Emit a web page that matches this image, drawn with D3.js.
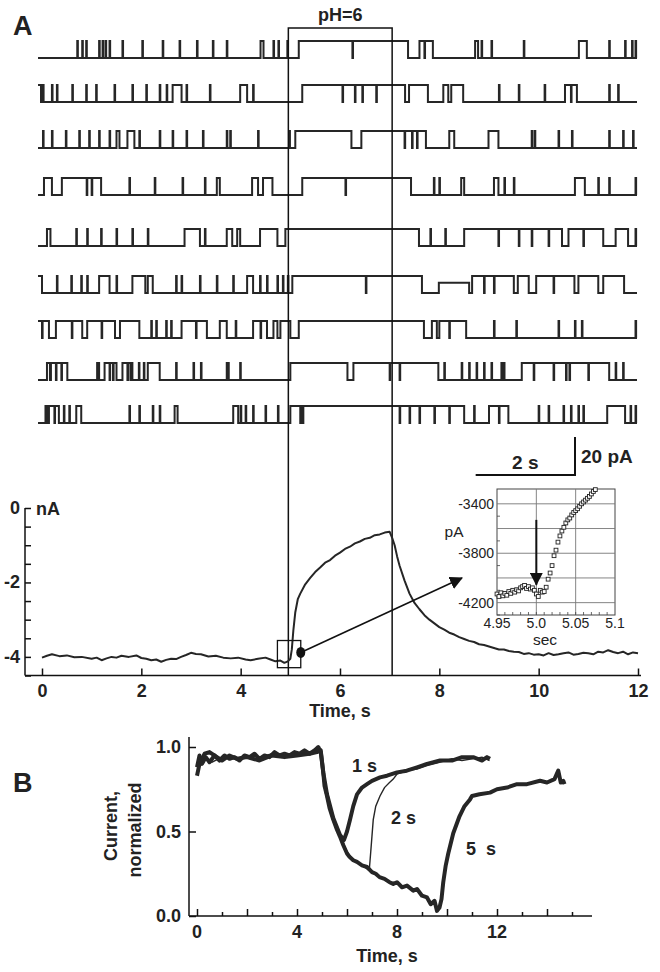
<!DOCTYPE html>
<html>
<head>
<meta charset="utf-8">
<script src="https://cdn.jsdelivr.net/npm/d3@7"></script>
<style>
  body { margin: 0; background: #fff; }
  text { font-family: 'Liberation Sans', Arial, Helvetica, sans-serif; fill: #222; }
</style>
</head>
<body>
<svg id="fig" width="660" height="972"></svg>
<script>
// ---- panel A, single channel records (s); [start, end, level?] = open level, brief = short flickers
const traceSpan = [-0.08, 11.98];
const pulse = [4.96, 7.05];
const openLevelPa = 9;

const openings = [
  [[4.40, 4.46], [5.17, 7.37], [7.60, 7.87], [8.72, 8.78], [10.81, 10.97]],
  [[-0.08, -0.02], [2.63, 2.81], [3.99, 4.13], [5.24, 7.31], [7.39, 7.77], [8.08, 8.18], [8.24, 8.48], [10.53, 10.77]],
  [[1.5, 1.56], [1.72, 1.86], [5.1, 6.23], [6.43, 7.73], [8.2, 8.3], [8.99, 9.19]],
  [[0.04, 0.2], [0.4, 1.19], [3.52, 3.58], [4.23, 4.35], [4.45, 4.64], [5.24, 7.43], [8.44, 8.5], [9.1, 9.19], [10.73, 10.93]],
  [[0.1, 0.17], [2.87, 3.18], [3.72, 3.83], [3.93, 3.99], [4.39, 4.74], [4.9, 7.59], [8.5, 10.47], [10.6, 11.3], [11.55, 11.8]],
  [[-0.08, 0.0], [1.15, 1.36], [1.82, 2.08], [2.13, 2.23], [4.13, 4.25], [5.04, 7.65], [7.99, 8.6, 0.6], [8.66, 9.5], [9.58, 9.8], [9.95, 10.72], [10.8, 11.2], [11.3, 11.72]],
  [[-0.08, 0.14], [0.28, 0.81], [0.91, 1.47], [1.57, 1.96], [2.81, 3.32], [3.58, 3.72], [4.25, 4.53], [4.66, 4.74], [4.8, 5.0], [5.17, 7.69], [7.85, 7.95], [8.0, 8.54]],
  [[0.1, 0.16], [0.18, 0.51], [1.11, 1.15], [1.26, 1.5], [1.62, 1.82], [2.13, 2.37], [3.72, 3.76], [5.0, 6.15], [6.27, 7.98], [9.66, 11.42]],
  [[0.07, 0.1], [0.14, 0.34], [0.69, 0.79], [2.67, 2.73], [3.85, 3.95], [5.0, 8.5], [9.0, 9.39], [11.38, 11.74]]
];

const briefEvents = [
  [0.71, 0.81, 0.89, 1.15, 1.22, 1.28, 1.36, 1.62, 2.02, 2.43, 2.77, 3.12, 3.44, 3.72, 4.66, 4.76, 4.94, 6.25, 7.7, 8.85, 9.05, 9.7, 11.42, 11.74, 11.88, 11.95],
  [0.02, 0.2, 0.3, 0.61, 0.89, 1.09, 1.46, 1.82, 2.1, 2.37, 2.51, 2.91, 3.38, 4.25, 6.05, 6.3, 6.45, 6.73, 9.2, 9.6, 10.12, 10.65, 11.42, 11.6],
  [0.02, 0.2, 0.48, 0.75, 0.95, 1.15, 1.36, 1.96, 2.37, 2.63, 2.91, 3.24, 3.72, 3.79, 4.35, 4.98, 7.3, 7.45, 7.55, 9.86, 9.92, 10.4, 10.67, 11.42, 11.7, 11.9],
  [0.9, 1.0, 1.76, 2.27, 2.83, 3.28, 6.11, 7.89, 8.0, 9.31, 9.5, 11.2, 11.42, 11.95],
  [0.69, 0.91, 1.19, 1.5, 1.82, 2.13, 3.28, 7.82, 8.12, 9.19, 9.6, 9.86, 10.2, 10.9, 11.95],
  [0.3, 0.59, 0.79, 0.91, 1.5, 2.7, 2.81, 3.18, 3.52, 3.85, 4.39, 4.53, 4.74, 4.85, 4.95, 6.52, 8.9, 9.1, 10.3],
  [0.0, 0.6, 1.2, 2.2, 2.3, 2.5, 2.6, 3.1, 3.9, 4.4, 8.2, 9.1, 9.55, 10.4, 10.73, 10.87, 11.95],
  [0.28, 0.39, 1.36, 1.43, 1.72, 1.78, 1.95, 2.05, 2.7, 3.05, 3.2, 3.99, 7.0, 7.2, 8.1, 8.45, 8.6, 8.75, 8.9, 9.05, 9.25, 9.3, 9.9, 10.3, 10.55, 10.62, 11.0, 11.55, 11.7],
  [0.25, 0.44, 0.55, 1.76, 1.96, 2.23, 2.37, 4.0, 4.1, 4.25, 4.5, 4.75, 5.2, 5.25, 7.2, 7.4, 7.6, 7.9, 8.2, 8.7, 9.2, 10.0, 10.2, 10.5, 10.65, 10.8, 10.9, 11.85, 11.95]
];

// ---- panel A, whole cell current (s, nA)
const wholeCell = [
  [0, -4.02], [0.1, -3.97], [0.2, -3.93], [0.35, -3.98], [0.5, -3.96], [0.65, -4.01], [0.8, -4.0], [1.0, -4.05],
  [1.1, -4.02], [1.2, -4.09], [1.3, -4.04], [1.4, -4.0], [1.5, -4.02], [1.6, -3.97], [1.75, -4.0], [1.9, -3.96],
  [2.0, -4.03], [2.1, -4.05], [2.2, -4.09], [2.3, -4.07], [2.4, -4.13], [2.5, -4.08], [2.6, -4.05], [2.7, -4.06],
  [2.8, -4.0], [2.9, -3.95], [3.0, -3.89], [3.1, -3.92], [3.2, -3.93], [3.35, -3.99], [3.5, -3.97], [3.65, -4.02],
  [3.8, -4.04], [3.95, -4.02], [4.1, -4.07], [4.2, -4.09], [4.35, -4.05], [4.5, -4.02], [4.6, -4.07], [4.7, -4.12],
  [4.8, -4.1], [4.88, -4.16], [4.95, -4.12], [5.0, -4.05], [5.03, -3.8], [5.06, -3.3], [5.1, -2.8], [5.15, -2.45],
  [5.2, -2.3], [5.3, -2.05], [5.4, -1.88], [5.5, -1.72], [5.6, -1.6], [5.7, -1.47], [5.8, -1.4], [5.9, -1.28],
  [6.0, -1.2], [6.1, -1.1], [6.2, -1.04], [6.3, -0.95], [6.4, -0.9], [6.5, -0.83], [6.6, -0.8], [6.7, -0.73],
  [6.8, -0.71], [6.9, -0.66], [7.0, -0.64], [7.05, -0.8], [7.1, -1.0], [7.15, -1.3], [7.2, -1.55], [7.3, -1.95],
  [7.4, -2.3], [7.5, -2.55], [7.6, -2.72], [7.7, -2.88], [7.8, -3.0], [7.9, -3.1], [8.0, -3.2], [8.1, -3.27],
  [8.2, -3.35], [8.3, -3.4], [8.4, -3.47], [8.5, -3.52], [8.6, -3.57], [8.7, -3.6], [8.8, -3.66], [8.9, -3.68],
  [9.0, -3.72], [9.1, -3.76], [9.2, -3.8], [9.3, -3.8], [9.4, -3.84], [9.5, -3.86], [9.6, -3.87], [9.7, -3.92],
  [9.8, -3.9], [9.9, -3.94], [10.0, -3.93], [10.1, -3.96], [10.2, -3.9], [10.3, -3.95], [10.4, -3.93], [10.5, -3.9],
  [10.6, -3.88], [10.7, -3.94], [10.8, -3.92], [10.9, -3.89], [11.0, -3.9], [11.1, -3.93], [11.2, -3.86], [11.3, -3.88],
  [11.4, -3.82], [11.5, -3.87], [11.6, -3.9], [11.7, -3.86], [11.8, -3.93], [11.9, -3.88], [12.0, -3.9]
];
const zoomWindowT = [4.74, 5.21];
const zoomWindowNA = [-3.56, -4.29];
const dotPoint = [5.21, -3.88];

// ---- inset (s, pA)
const insetT = [4.95, 4.9525, 4.955, 4.9575, 4.96, 4.9625, 4.965, 4.9675, 4.97, 4.9725, 4.975, 4.9775, 4.98, 4.9825, 4.985, 4.9875, 4.99,
  4.9925, 4.995, 4.9975, 5.0, 5.0025, 5.005, 5.0075, 5.01, 5.0125, 5.015, 5.0175, 5.02, 5.0225, 5.025, 5.0275, 5.03, 5.0325, 5.035,
  5.0375, 5.04, 5.0425, 5.045, 5.0475, 5.05, 5.0525, 5.055, 5.0575, 5.06, 5.0625, 5.065, 5.0675, 5.07, 5.0725, 5.075];
const insetPA = [-4130, -4150, -4120, -4145, -4125, -4140, -4110, -4125, -4100, -4115, -4095, -4105, -4080, -4070, -4060, -4085, -4070,
  -4090, -4080, -4100, -4130, -4150, -4100, -4115, -4110, -4075, -4010, -3960, -3900, -3820, -3775, -3710, -3660, -3620, -3590,
  -3555, -3530, -3515, -3490, -3470, -3455, -3440, -3420, -3400, -3385, -3370, -3355, -3340, -3320, -3300, -3285];
const insetYTicks = [-3400, -3800, -4200];
const insetXTicks = [4.95, 5.0, 5.05, 5.1];
const insetXLabels = ['4.95', '5.0', '5.05', '5.1'];

// ---- panel B (s, normalized current)
const rec5s = [
  [0, 0.88], [0.1, 0.95], [0.2, 0.9], [0.35, 0.94], [0.5, 0.91], [0.7, 0.95], [0.9, 0.92], [1.1, 0.95], [1.3, 0.93], [1.5, 0.94],
  [1.7, 0.92], [1.9, 0.95], [2.1, 0.94], [2.3, 0.96], [2.5, 0.93], [2.7, 0.95], [2.9, 0.94], [3.1, 0.97], [3.3, 0.95], [3.5, 0.96],
  [3.7, 0.95], [3.9, 0.97], [4.1, 0.96], [4.3, 0.98], [4.5, 0.96], [4.7, 0.98], [4.85, 1.0], [4.95, 0.97], [5.05, 0.85], [5.1, 0.77],
  [5.2, 0.71], [5.3, 0.64], [5.45, 0.57], [5.6, 0.51], [5.72, 0.47], [5.85, 0.42], [6.0, 0.37], [6.1, 0.35], [6.25, 0.33], [6.4, 0.32],
  [6.6, 0.3], [6.8, 0.29], [7.0, 0.26], [7.15, 0.25], [7.3, 0.23], [7.5, 0.22], [7.7, 0.2], [7.85, 0.19], [8.0, 0.2], [8.2, 0.17],
  [8.4, 0.18], [8.65, 0.15], [8.8, 0.16], [9.0, 0.12], [9.2, 0.11], [9.35, 0.07], [9.5, 0.09], [9.6, 0.03], [9.7, 0.05], [9.78, 0.1],
  [9.85, 0.2], [9.95, 0.3], [10.05, 0.37], [10.25, 0.49], [10.5, 0.59], [10.7, 0.65], [10.92, 0.69], [11.0, 0.71], [11.3, 0.72],
  [11.72, 0.73], [12.0, 0.75], [12.4, 0.76], [12.8, 0.78], [13.2, 0.78], [13.72, 0.8], [14.0, 0.79], [14.3, 0.81], [14.45, 0.86],
  [14.55, 0.79], [14.65, 0.8], [14.7, 0.78]
];
const rec1s = [
  [0, 0.83], [0.1, 0.9], [0.3, 0.96], [0.5, 0.97], [0.8, 0.94], [1.0, 0.92], [1.3, 0.95], [1.6, 0.93], [2.0, 0.94], [2.5, 0.92],
  [3.0, 0.95], [3.5, 0.94], [4.0, 0.95], [4.5, 0.96], [4.8, 0.97], [4.95, 0.98], [5.05, 0.85], [5.2, 0.72], [5.45, 0.58], [5.72, 0.48],
  [5.88, 0.45], [6.0, 0.5], [6.12, 0.57], [6.25, 0.65], [6.4, 0.72], [6.6, 0.76], [6.8, 0.78], [7.0, 0.8], [7.32, 0.82], [7.6, 0.83],
  [8.0, 0.85], [8.39, 0.86], [8.8, 0.88], [9.2, 0.9], [9.72, 0.92], [10.2, 0.92], [10.6, 0.94], [11.05, 0.94], [11.4, 0.92],
  [11.6, 0.94], [11.72, 0.93]
];
const rec2s = [
  [0, 0.9], [0.3, 0.93], [0.6, 0.91], [1.0, 0.94], [1.5, 0.93], [2.0, 0.95], [2.5, 0.94], [3.0, 0.96], [3.5, 0.95], [4.0, 0.96],
  [4.5, 0.97], [4.9, 0.98], [5.05, 0.84], [5.2, 0.71], [5.45, 0.57], [5.72, 0.47], [6.0, 0.38], [6.25, 0.33], [6.6, 0.3], [6.89, 0.27],
  [6.95, 0.38], [7.05, 0.57], [7.15, 0.65], [7.32, 0.71], [7.5, 0.76], [7.7, 0.79], [7.85, 0.81], [8.0, 0.84], [8.4, 0.86], [8.8, 0.87],
  [9.2, 0.89], [9.7, 0.91], [10.2, 0.93], [10.6, 0.92], [11.0, 0.93], [11.4, 0.94], [11.7, 0.92]
];
const recLabels = ['1 s', '2 s', '5\u00a0\u00a0s'];

// ------------------------------------------------------------------
const svg = d3.select('#fig');
const ink = '#262626';
const W = 0.012;

svg.append('defs').append('marker')
  .attr('id', 'head')
  .attr('viewBox', '0 0 12 12')
  .attr('markerWidth', 13).attr('markerHeight', 13)
  .attr('markerUnits', 'userSpaceOnUse')
  .attr('refX', 11).attr('refY', 6)
  .attr('orient', 'auto')
  .append('path').attr('d', 'M0,0 L12,6 L0,12 z').attr('fill', '#111');

function txt(x, y, s, size, weight, anchor) {
  return svg.append('text')
    .attr('x', x).attr('y', y)
    .attr('font-size', size)
    .attr('font-weight', weight || 'bold')
    .attr('text-anchor', anchor || 'start')
    .text(s);
}

// ---- panel A scales
const xA = d3.scaleLinear().domain([0, 12]).range([42, 638]);
const yA = d3.scaleLinear().domain([0, -4.5]).range([508, 675.5]);
const yPa = d3.scaleLinear().domain([0, 20]).range([0, -38]);
const rowY = [58, 102, 148, 195, 246, 293, 338, 380, 423];

function levelAt(open, brief, t) {
  const o = open.find(d => t >= d[0] && t < d[1]);
  let lv = o ? (o.length > 2 ? o[2] : 1) : 0;
  if (brief.some(b => t >= b && t < b + W)) lv = lv > 0 ? 0 : 1;
  return lv;
}

function stepPoints(open, brief) {
  const ts = new Set(traceSpan);
  open.forEach(d => { ts.add(d[0]); ts.add(d[1]); });
  brief.forEach(b => { ts.add(b); ts.add(b + W); });
  return [...ts]
    .filter(t => t >= traceSpan[0] && t <= traceSpan[1])
    .sort(d3.ascending)
    .map(t => [t, levelAt(open, brief, t + 1e-6)]);
}

const traces = svg.append('g').attr('class', 'traces');
openings.forEach((open, i) => {
  const line = d3.line()
    .x(d => xA(d[0]))
    .y(d => rowY[i] + yPa(d[1] * openLevelPa))
    .curve(d3.curveStepAfter);
  traces.append('path')
    .datum(stepPoints(open, briefEvents[i]))
    .attr('d', line)
    .attr('fill', 'none')
    .attr('stroke', ink)
    .attr('stroke-width', 2);
});

// pH box
const boxTop = 28;
svg.append('path')
  .attr('d', `M${xA(pulse[0])},${yA(-4.5)}V${boxTop}H${xA(pulse[1])}V${yA(-4.5)}`)
  .attr('fill', 'none').attr('stroke', '#111').attr('stroke-width', 1.5);
txt((xA(pulse[0]) + xA(pulse[1])) / 2, 21, 'pH=6', 18, 'bold', 'middle');
txt(13, 35, 'A', 27);

// scale bar
const sbX = 575, sbY = 475;
svg.append('path')
  .attr('d', `M${sbX - (xA(2) - xA(0))},${sbY}H${sbX}V${sbY + yPa(20)}`)
  .attr('fill', 'none').attr('stroke', '#111').attr('stroke-width', 2);
txt(sbX - (xA(2) - xA(0)) / 2, 469, '2 s', 19, 'bold', 'middle');
txt(581, 463, '20 pA', 19);

// whole-cell axes
const gA = svg.append('g');
gA.append('line').attr('x1', 25).attr('x2', 25).attr('y1', yA(0)).attr('y2', yA(-4.5))
  .attr('stroke', '#111').attr('stroke-width', 1.5);
gA.append('line').attr('x1', 25).attr('x2', 641).attr('y1', yA(-4.5)).attr('y2', yA(-4.5))
  .attr('stroke', '#111').attr('stroke-width', 1.5);

gA.append('g')
  .attr('transform', `translate(25,0)`)
  .call(d3.axisLeft(yA).tickValues(d3.range(0, -4.6, -0.5)).tickSize(-6).tickFormat(() => ''))
  .call(g => g.select('.domain').remove())
  .call(g => g.selectAll('line').attr('stroke', '#111').attr('stroke-width', 1.5));
[0, -2, -4].forEach(v => txt(20, yA(v) + 6, String(v), 18, 'bold', 'end'));
txt(36, yA(0) + 7, 'nA', 18);

gA.append('g')
  .attr('transform', `translate(0,${yA(-4.5)})`)
  .call(d3.axisBottom(xA).tickValues(d3.range(0, 13, 2)).tickSize(-7).tickPadding(9).tickFormat(d3.format('d')))
  .call(g => g.select('.domain').remove())
  .call(g => g.selectAll('line').attr('stroke', '#111').attr('stroke-width', 1.5))
  .call(g => g.selectAll('text').attr('font-size', 18).attr('font-weight', 'bold').attr('fill', '#222')
    .attr('font-family', "'Liberation Sans', Arial, sans-serif"));
txt(xA(6), 717, 'Time, s', 18, 'bold', 'middle');

svg.append('path')
  .datum(wholeCell)
  .attr('d', d3.line().x(d => xA(d[0])).y(d => yA(d[1])))
  .attr('fill', 'none').attr('stroke', ink).attr('stroke-width', 2).attr('stroke-linejoin', 'round');

// zoom window, dot and arrow
svg.append('rect')
  .attr('x', xA(zoomWindowT[0])).attr('y', yA(zoomWindowNA[0]))
  .attr('width', xA(zoomWindowT[1]) - xA(zoomWindowT[0]))
  .attr('height', yA(zoomWindowNA[1]) - yA(zoomWindowNA[0]))
  .attr('fill', 'none').attr('stroke', '#111').attr('stroke-width', 1.3);
svg.append('ellipse')
  .attr('cx', xA(dotPoint[0])).attr('cy', yA(dotPoint[1]))
  .attr('rx', 4.5).attr('ry', 5.5).attr('fill', '#111');
svg.append('line')
  .attr('x1', xA(dotPoint[0])).attr('y1', yA(dotPoint[1]))
  .attr('x2', 462).attr('y2', 578)
  .attr('stroke', '#111').attr('stroke-width', 1.6)
  .attr('marker-end', 'url(#head)');

// ---- inset
const xI = d3.scaleLinear().domain([4.95, 5.1]).range([497, 615]);
const yI = d3.scaleLinear().domain([-4300, -3280]).range([615, 489]);
const gI = svg.append('g');
gI.append('rect').attr('x', 497).attr('y', 489).attr('width', 118).attr('height', 126)
  .attr('fill', '#fff').attr('stroke', '#444').attr('stroke-width', 1);
gI.selectAll('line.hg').data(d3.range(-4200, -3300, 200)).join('line')
  .attr('x1', 497).attr('x2', 615).attr('y1', d => yI(d)).attr('y2', d => yI(d))
  .attr('stroke', '#777').attr('stroke-width', 0.9);
gI.selectAll('line.vg').data([5.0, 5.05]).join('line')
  .attr('y1', 489).attr('y2', 615).attr('x1', d => xI(d)).attr('x2', d => xI(d))
  .attr('stroke', '#777').attr('stroke-width', 0.9);
gI.selectAll('line.mx').data(d3.range(4.96, 5.1, 0.01)).join('line')
  .attr('y1', 615).attr('y2', 612).attr('x1', d => xI(d)).attr('x2', d => xI(d))
  .attr('stroke', '#444').attr('stroke-width', 0.8);
gI.selectAll('line.my').data(d3.range(-4300, -3300, 200)).join('line')
  .attr('x1', 497).attr('x2', 500).attr('y1', d => yI(d)).attr('y2', d => yI(d))
  .attr('stroke', '#444').attr('stroke-width', 0.8);
insetYTicks.forEach(v => txt(494, yI(v) + 5, String(v), 14, 'normal', 'end'));
insetXTicks.forEach((v, i) => txt(xI(v), 628, insetXLabels[i], 14, 'normal', 'middle'));
txt(454, 537, 'pA', 15.5, 'normal', 'middle');
txt(545, 645, 'sec', 15.5, 'normal', 'middle');

gI.selectAll('rect.pt').data(d3.zip(insetT, insetPA)).join('rect')
  .attr('x', d => xI(d[0]) - 1.9).attr('y', d => yI(d[1]) - 1.9)
  .attr('width', 3.8).attr('height', 3.8)
  .attr('fill', '#fff').attr('stroke', '#222').attr('stroke-width', 0.9);

gI.append('line')
  .attr('x1', xI(5.0)).attr('x2', xI(5.0))
  .attr('y1', yI(-3530)).attr('y2', yI(-4055))
  .attr('stroke', '#111').attr('stroke-width', 2)
  .attr('marker-end', 'url(#head)');

// ---- panel B
const xB = d3.scaleLinear().domain([0, 12]).range([197, 497]);
const yB = d3.scaleLinear().domain([0, 1]).range([916, 747]);
const gB = svg.append('g');
txt(13, 792, 'B', 27);

gB.append('line').attr('x1', 189).attr('x2', 189).attr('y1', 737).attr('y2', yB(0))
  .attr('stroke', '#111').attr('stroke-width', 1.5);
gB.append('line').attr('x1', 189).attr('x2', 592).attr('y1', yB(0)).attr('y2', yB(0))
  .attr('stroke', '#111').attr('stroke-width', 1.5);

gB.append('g')
  .attr('transform', 'translate(189,0)')
  .call(d3.axisLeft(yB).tickValues([0, 0.5, 1]).tickSize(-7).tickFormat(() => ''))
  .call(g => g.select('.domain').remove())
  .call(g => g.selectAll('line').attr('stroke', '#111').attr('stroke-width', 1.5));
[0, 0.5, 1].forEach(v => txt(181, yB(v) + 6, d3.format('.1f')(v), 18, 'bold', 'end'));

gB.append('g')
  .attr('transform', `translate(0,${yB(0)})`)
  .call(d3.axisBottom(xB).tickValues(d3.range(0, 16, 1)).tickSize(0).tickFormat(() => ''))
  .call(g => g.select('.domain').remove())
  .call(g => g.selectAll('.tick line')
    .attr('y2', d => d % 2 === 0 ? -7 : -4)
    .attr('stroke', '#111').attr('stroke-width', 1.5));
[0, 4, 8, 12].forEach(v => txt(xB(v), 938, String(v), 18, 'bold', 'middle'));
txt(xB(7.6), 962, 'Time, s', 18, 'bold', 'middle');

const yLab = svg.append('text')
  .attr('font-size', 18).attr('font-weight', 'bold').attr('text-anchor', 'middle')
  .attr('transform', 'rotate(-90)');
yLab.append('tspan').attr('x', -826).attr('y', 117).text('Current,');
yLab.append('tspan').attr('x', -830).attr('y', 141).text('normalized');

const lineB = d3.line().x(d => xB(d[0])).y(d => yB(d[1]));
[rec5s, rec1s].forEach(r => {
  gB.append('path').datum(r).attr('d', lineB)
    .attr('fill', 'none').attr('stroke', ink).attr('stroke-width', 4).attr('stroke-linejoin', 'round');
});
gB.append('path').datum(rec2s).attr('d', lineB)
  .attr('fill', 'none').attr('stroke', ink).attr('stroke-width', 1.4);

txt(352, 772, recLabels[0], 18);
txt(391, 824, recLabels[1], 18);
txt(466, 855, recLabels[2], 18);
</script>
</body>
</html>
